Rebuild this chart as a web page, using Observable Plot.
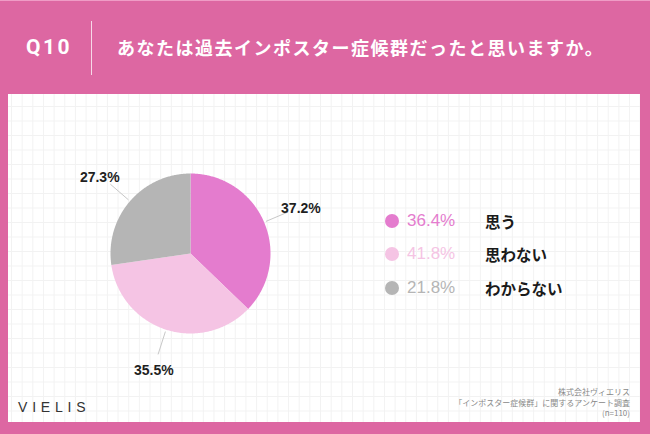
<!DOCTYPE html>
<html><head><meta charset="utf-8">
<script src="https://cdn.jsdelivr.net/npm/d3@7"></script>
<script src="https://cdn.jsdelivr.net/npm/@observablehq/plot@0.6"></script>
<style>
html,body{margin:0;padding:0;}
body{width:650px;height:434px;overflow:hidden;background:#dd67a2;position:relative;font-family:"Liberation Sans",Arial,sans-serif;}
#topline{position:absolute;left:0;top:0;width:650px;height:1px;background:#ef9cc6;}
#q{position:absolute;left:26px;top:34px;font-family:Roboto,"Liberation Sans",sans-serif;font-weight:700;font-size:21px;line-height:26px;color:#fff;letter-spacing:2.5px;}
#divider{position:absolute;left:91px;top:21px;width:1px;height:54px;background:rgba(255,255,255,0.75);}
#title{position:absolute;left:117px;top:35px;font-family:"Noto Sans CJK JP",sans-serif;font-weight:700;font-size:18px;letter-spacing:1.5px;color:#fff;line-height:24px;white-space:nowrap;}
#panel{position:absolute;left:8px;top:94px;width:632px;height:328px;background-color:#fff;
 background-image:linear-gradient(to right,#f2f2f2 1px,transparent 1px),linear-gradient(to bottom,#f2f2f2 1px,transparent 1px);
 background-size:10.67px 14.5px;background-position:3px 12px;}
#chart{position:absolute;left:0;top:0;}
.leg{position:absolute;left:385px;height:20px;display:flex;align-items:center;white-space:nowrap;}
.leg .dot{width:14px;height:14px;border-radius:50%;margin-right:8px;}
.leg .pct{font-family:"Liberation Sans",Arial,sans-serif;font-size:17px;width:78px;}
.leg .lab{font-family:"Noto Sans CJK JP",sans-serif;font-weight:700;font-size:15.5px;color:#1a1a1a;}
#logo{position:absolute;left:18px;top:399px;font-family:"Liberation Sans",Arial,sans-serif;font-size:14px;letter-spacing:4.8px;color:#333;}
#cap{position:absolute;right:20px;top:387px;text-align:right;font-family:"Noto Sans CJK JP",sans-serif;font-size:8px;line-height:10.5px;color:#888;}
</style></head>
<body>
<div id="topline"></div>
<div id="q">Q10</div>
<div id="divider"></div>
<div id="title">あなたは過去インポスター症候群だったと思いますか。</div>
<div id="panel"></div>
<div id="chart"></div>
<div id="legend"></div>
<div id="logo">VIELIS</div>
<div id="cap">株式会社ヴィエリス<br>「インポスター症候群」に関するアンケート調査<br>(n=110)</div>
<script>
// Data
const categories = ["思う", "思わない", "わからない"];
const pieValues = [37.2, 35.5, 27.3];       // values shown on the pie
const legendValues = [36.4, 41.8, 21.8];    // values shown in the legend
const colors = ["#e47cce", "#f5c4e4", "#b5b5b5"];

// Pie geometry from values (unit circle, angle clockwise from top)
const pie = d3.pie().sort(null).value(d => d.value)(
  categories.map((c, i) => ({cat: c, value: pieValues[i], color: colors[i]}))
);
const pts = [];
pie.forEach(s => {
  const key = s.data.cat;
  pts.push({key, x: 0, y: 0});
  const n = Math.max(2, Math.ceil((s.endAngle - s.startAngle) / 0.01));
  for (let k = 0; k <= n; k++) {
    const a = s.startAngle + (s.endAngle - s.startAngle) * k / n;
    pts.push({key, x: Math.sin(a), y: -Math.cos(a)});
  }
  pts.push({key, x: 0, y: 0});
});
const labels = pie.map(s => {
  const a = (s.startAngle + s.endAngle) / 2;
  return {text: s.data.value.toFixed(1) + "%", a};
});
const leaders = [];
labels.forEach((l, i) => {
  leaders.push({i, x: 1.03 * Math.sin(l.a), y: -1.03 * Math.cos(l.a)});
  leaders.push({i, x: 1.32 * Math.sin(l.a), y: -1.32 * Math.cos(l.a)});
});

const marks = pie.map(s =>
  Plot.line(pts.filter(p => p.key === s.data.cat), {x: "x", y: "y", fill: s.data.color, stroke: "none", curve: "linear"})
);
marks.push(Plot.line(leaders, {x: "x", y: "y", z: "i", stroke: "#c8c8c8", strokeWidth: 1}));
marks.push(Plot.text(labels, {
  x: l => 1.5 * Math.sin(l.a), y: l => -1.5 * Math.cos(l.a) + 0.03, text: "text",
  fontSize: 14, fontWeight: "bold", fill: "#1f1f1f", fontFamily: "Liberation Sans, Arial, sans-serif"
}));

const chart = Plot.plot({
  width: 650, height: 434, margin: 0,
  style: {background: "transparent", overflow: "visible"},
  x: {domain: [-1, 1], range: [110, 270], axis: null},
  y: {domain: [-1, 1], range: [173, 333], axis: null},
  marks
});
document.getElementById("chart").appendChild(chart);

// Legend
const legTops = [211, 244, 278];
const leg = document.getElementById("legend");
categories.forEach((c, i) => {
  const d = document.createElement("div");
  d.className = "leg";
  d.style.top = legTops[i] + "px";
  d.innerHTML = `<div class="dot" style="background:${colors[i]}"></div>` +
    `<div class="pct" style="color:${colors[i]}">${legendValues[i].toFixed(1)}%</div>` +
    `<div class="lab">${c}</div>`;
  leg.appendChild(d);
});
</script>
</body></html>
